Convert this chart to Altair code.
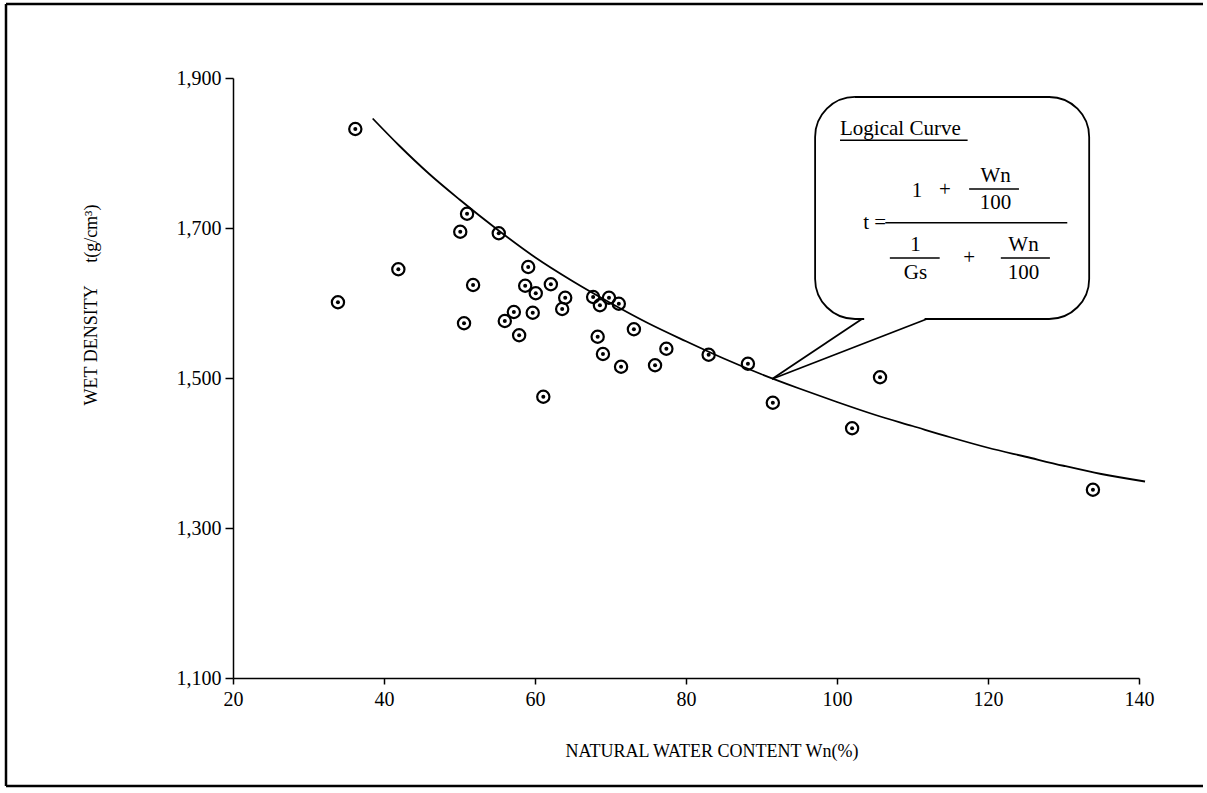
import altair as alt
import pandas as pd

# ---- data ----
wn = [33.9, 36.2, 41.9, 50.1, 51.0, 51.8, 50.6, 55.2, 59.1, 58.7, 60.1, 62.1, 64.0, 63.6,
      57.2, 56.0, 59.7, 57.9, 61.1, 67.7, 68.6, 69.8, 71.1, 68.3, 69.0, 71.4, 73.1, 77.4,
      75.9, 83.0, 88.2, 91.5, 105.7, 102.0, 133.9]
density = [1601, 1832, 1645, 1695, 1719, 1624, 1573, 1693, 1648, 1623, 1613, 1625, 1607, 1592,
           1588, 1576, 1587, 1557, 1475, 1608, 1597, 1607, 1599, 1555, 1532, 1515, 1565, 1539,
           1517, 1531, 1519, 1467, 1501, 1433, 1351]

curve_wn = [38.5, 42, 46, 50, 55, 60, 65, 70, 75, 80, 85, 90, 95, 100, 105, 110, 115, 120,
            125, 130, 135, 140.8]
curve_t = [1846, 1810, 1772, 1738, 1698, 1661, 1629, 1600, 1573, 1549, 1526, 1505, 1486, 1468,
           1451, 1436, 1421, 1407, 1395, 1383, 1372, 1362]

x_ticks = [20, 40, 60, 80, 100, 120, 140]
y_ticks = [1100, 1300, 1500, 1700, 1900]

FONT = "Liberation Serif"

pts = pd.DataFrame({"wn": wn, "t": density})
crv = pd.DataFrame({"wn": curve_wn, "t": curve_t})
one = pd.DataFrame({"k": [0]})

xs = alt.Scale(domain=[20, 140], nice=False, zero=False)
ys = alt.Scale(domain=[1100, 1900], nice=False, zero=False)

X = alt.X("wn:Q", scale=xs,
          axis=alt.Axis(values=x_ticks, title=None, grid=False, labelFlush=False,
                        tickSize=6, labelPadding=5))
Y = alt.Y("t:Q", scale=ys,
          axis=alt.Axis(values=y_ticks, title=None, grid=False, format=",d",
                        tickSize=8, labelPadding=4, labelFlush=False))

curve = alt.Chart(crv).mark_line(color="black", strokeWidth=1.8, interpolate="monotone",
                                 clip=False).encode(x=X, y=Y)

rings = alt.Chart(pts).mark_point(shape="circle", size=150, filled=False, color="black",
                                  strokeWidth=2.2, opacity=1).encode(x=X, y=Y)
dots = alt.Chart(pts).mark_point(shape="circle", size=16, filled=True, color="black",
                                 opacity=1).encode(x=X, y=Y)

# ---- callout box (annotation geometry in data units) ----
box = pd.DataFrame({"x": [97.1], "x2": [133.4], "y": [1874.7], "y2": [1578.7]})
box_mark = alt.Chart(box).mark_rect(cornerRadius=40, fill="white", stroke="black",
                                    strokeWidth=1.8).encode(
    x=alt.X("x:Q", scale=xs), x2="x2", y=alt.Y("y:Q", scale=ys), y2="y2")

gap = pd.DataFrame({"x": [103.6], "x2": [111.6], "y": [1578.7], "y2": [1578.7]})
gap_mark = alt.Chart(gap).mark_rule(color="white", strokeWidth=4).encode(
    x=alt.X("x:Q", scale=xs), x2="x2", y=alt.Y("y:Q", scale=ys), y2="y2")

tail = pd.DataFrame({"x": [103.3, 111.9], "x2": [91.4, 91.4],
                     "y": [1578.7, 1578.7], "y2": [1498.7, 1498.7]})
tail_mark = alt.Chart(tail).mark_rule(color="black", strokeWidth=1.8).encode(
    x=alt.X("x:Q", scale=xs), x2="x2", y=alt.Y("y:Q", scale=ys), y2="y2")

bars = pd.DataFrame({
    "x":  [117.5, 106.4, 107.0, 121.7, 100.4],
    "x2": [124.1, 130.5, 113.6, 128.2, 117.3],
    "y":  [1752, 1707, 1660, 1660, 1817],
})
bar_mark = alt.Chart(bars).mark_rule(color="black", strokeWidth=1.6).encode(
    x=alt.X("x:Q", scale=xs), x2="x2", y=alt.Y("y:Q", scale=ys))

formula = pd.DataFrame({
    "txt": ["1", "+", "Wn", "100", "1", "Gs", "+", "Wn", "100"],
    "x":   [110.6, 114.3, 121.0, 121.0, 110.4, 110.4, 117.5, 124.7, 124.7],
    "y":   [1750, 1751, 1769, 1734, 1677, 1640, 1660, 1677, 1640],
})
formula_mark = alt.Chart(formula).mark_text(font=FONT, fontSize=21, color="black",
                                            baseline="middle", align="center").encode(
    x=alt.X("x:Q", scale=xs), y=alt.Y("y:Q", scale=ys), text="txt:N")

teq = pd.DataFrame({"txt": ["t ="], "x": [106.5], "y": [1707]})
teq_mark = alt.Chart(teq).mark_text(font=FONT, fontSize=21, color="black", baseline="middle",
                                    align="right").encode(
    x=alt.X("x:Q", scale=xs), y=alt.Y("y:Q", scale=ys), text="txt:N")

lc = pd.DataFrame({"txt": ["Logical Curve"], "x": [100.4], "y": [1832]})
lc_mark = alt.Chart(lc).mark_text(font=FONT, fontSize=21, color="black", baseline="middle",
                                  align="left").encode(
    x=alt.X("x:Q", scale=xs), y=alt.Y("y:Q", scale=ys), text="txt:N")

# ---- axis titles and frame ----
ytitle = alt.Chart(one).mark_text(font=FONT, fontSize=18, color="black", angle=270,
                                  baseline="middle", align="center").encode(
    x=alt.value(-141), y=alt.value(227),
    text=alt.value("WET DENSITY\u00a0\u00a0\u00a0\u00a0\u00a0t(g/cm\u00b3)"))
xtitle = alt.Chart(one).mark_text(font=FONT, fontSize=18, color="black",
                                  baseline="middle", align="center").encode(
    x=alt.value(479), y=alt.value(674), text=alt.value("NATURAL WATER CONTENT Wn(%)"))

frame_left = alt.Chart(one).mark_rule(color="black", strokeWidth=2.5).encode(
    x=alt.value(-227), y=alt.value(-74), y2=alt.value(708))
frame_top = alt.Chart(one).mark_rule(color="black", strokeWidth=2.5).encode(
    x=alt.value(-227), x2=alt.value(970), y=alt.value(-74))
frame_bottom = alt.Chart(one).mark_rule(color="black", strokeWidth=2.5).encode(
    x=alt.value(-227), x2=alt.value(970), y=alt.value(708))

chart = alt.layer(
    frame_left, frame_top, frame_bottom, curve, rings, dots, box_mark, gap_mark, tail_mark,
    bar_mark, formula_mark, teq_mark, lc_mark, ytitle, xtitle
).properties(
    width=906, height=600,
    autosize=alt.AutoSizeParams(type="none"),
    padding={"left": 233, "top": 78, "right": 68, "bottom": 115},
    background="white",
).configure_view(stroke=None).configure_axis(
    labelFont=FONT, labelFontSize=20, labelColor="black",
    domainColor="black", domainWidth=1.5, tickColor="black", tickWidth=1.5,
)

chart.save("out.html", embed_options={"renderer": "svg", "actions": False})
